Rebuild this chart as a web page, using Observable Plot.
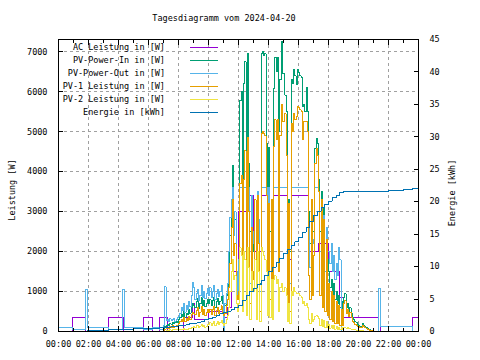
<!DOCTYPE html>
<html><head><meta charset="utf-8">
<script src="https://cdn.jsdelivr.net/npm/d3@7"></script>
<script src="https://cdn.jsdelivr.net/npm/@observablehq/plot@0.6"></script>
<style>html,body{margin:0;background:#fff}svg{display:block}</style>
</head><body><div id="chart"></div>
<script>
// ---------- data ----------
const title = "Tagesdiagramm vom 2024-04-20";
const yLabel = "Leistung [W]";
const y2Label = "Energie [kWh]";
const seriesNames = ["AC Leistung in [W]","PV-Power-In in [W]","PV-Power-Out in [W]","PV-1 Leistung in [W]","PV-2 Leistung in [W]","Energie in [kWh]"];
const seriesColors = ["#9400d3","#009e73","#56b4e9","#e69f00","#f0e442","#0072b2"];
const xMajorTicks = ["00:00","02:00","04:00","06:00","08:00","10:00","12:00","14:00","16:00","18:00","20:00","22:00","24:00"];
const xMinorTicks = ["01:00","03:00","05:00","07:00","09:00","11:00","13:00","15:00","17:00","19:00","21:00","23:00"];
const yTicks = [0,1000,2000,3000,4000,5000,6000,7000];
const y2Ticks = [0,5,10,15,20,25,30,35,40,45];
const yMax = 7310, y2Max = 45;

// day samples every 5 minutes starting 07:00
const dayStart = "07:00", stepMin = 5;
const pvIn = [
 60,120,150,180,140,200,170,230,190,220,250,230,
 300,350,420,380,500,360,450,420,550,460,600,700,
 650,600,750,820,580,700,850,640,780,620,700,800,
 700,800,650,780,850,600,750,820,680,760,880,700,
 600,650,900,1100,1500,2400,3300,4160,2500,2800,1400,1200,
 1500,5780,6020,3500,6210,6750,2900,6960,4200,2500,3400,2200,
 2000,3300,1500,3500,2800,1200,6950,7000,6900,6950,4700,2000,
 4600,2500,3200,1800,6080,6870,6500,6870,5000,6300,7250,6450,
 6450,5920,5500,2800,3300,2000,6300,6200,6550,6400,6180,6550,
 6480,6400,6350,5630,5680,5500,6100,5500,3000,2200,3300,2500,
 2500,4580,4840,4700,3800,2500,3500,2000,3100,1500,2600,1800,
 1500,1100,1300,900,1200,800,1000,700,900,600,750,500,
 850,950,600,700,500,600,450,350,300,250,220,180,
 150,120,130,200,160,120,90,70,50,40,20,10,
 0];
const pv1 = [
 30,60,80,100,80,120,100,140,110,130,160,150,
 200,250,300,260,350,240,320,280,380,300,420,480,
 450,420,520,600,380,480,620,430,550,400,480,560,
 480,560,420,540,620,400,520,600,460,540,640,480,
 400,450,650,800,1100,1700,2600,3300,1900,2200,900,800,
 1000,3700,3900,1200,3800,4530,900,4860,3000,700,2600,1500,
 1300,3300,600,3400,2200,500,4950,5000,4950,4900,3400,900,
 3200,800,3300,600,4630,5300,4800,5300,1500,4900,5680,5250,
 5250,5450,4400,700,3200,500,5200,5000,5450,5300,5380,5630,
 5600,5550,5500,4800,5250,5250,5250,5000,1400,800,3300,900,
 1900,4200,4590,4400,3500,900,3300,600,2800,500,2300,400,
 1200,300,1000,250,900,200,750,200,650,150,550,150,
 700,770,450,550,380,480,350,250,220,180,150,120,
 120,100,110,160,130,100,70,50,40,30,15,5,
 0];
const pv2 = [
 0,10,20,30,20,40,30,50,40,50,60,50,
 40,50,60,50,70,50,60,60,80,70,90,100,
 120,100,140,160,110,130,180,120,150,110,130,170,
 180,220,160,200,260,150,200,240,180,220,280,200,
 150,200,300,400,600,1000,1500,1800,1300,1400,700,500,
 700,2100,1900,500,2000,1800,400,2100,1600,300,1500,1000,
 1000,1800,300,2000,1500,250,2100,2000,1900,1800,1500,400,
 1500,350,1300,300,1300,1400,1200,1300,500,1100,1200,1000,
 1000,1100,900,250,700,200,1000,900,1100,1000,950,950,
 950,900,850,700,750,650,700,600,300,200,450,250,
 300,380,400,380,330,150,300,120,280,100,250,100,
 180,80,160,70,150,60,130,60,110,50,100,40,
 100,90,80,100,80,70,60,50,45,40,35,30,
 25,20,18,15,12,10,8,5,3,2,0,0,
 0];
const pvOutDay = [
 150,1120,280,300,250,320,280,300,330,260,310,350,
 380,450,600,520,700,480,650,560,750,620,900,1230,
 1100,800,950,1050,780,900,1150,850,1000,820,950,1080,
 900,1100,850,1000,1150,800,950,1050,880,1000,1150,900,
 0,700,950,1200,2000,2850,3300,3600,2400,3000,1500,900,
 1800,3600,3600,1800,3600,3600,1500,3600,3600,1200,3400,2500,
 2200,3300,1200,3500,2800,1000,3600,3600,3600,3600,3600,1800,
 3600,1500,3100,1300,3600,3600,3600,3600,2400,3600,3600,3600,
 3600,3600,3600,1500,3000,1200,3600,3600,3600,3600,3600,3600,
 3600,3600,3600,3600,3600,3600,3600,3600,2700,1600,3100,2300,
 2200,3600,3600,3600,3500,2000,3300,1700,2900,1500,2600,2000,
 2000,1700,2200,1500,1900,1300,1700,1400,2100,1800,0,0];
const pvOutAmTimes = ["00:00","00:55","01:48","01:57","03:21","04:15","04:24","05:41","06:15","06:45"];
const pvOutAmValues = [100,40,1040,110,40,1040,90,40,100,40];
const pvOutPmTimes = ["19:00","21:21","21:27","23:37","24:00"];
const pvOutPmValues = [0,1070,125,0,0];
const acTimes = ["00:00","00:55","01:48","03:21","04:21","05:41","06:15","06:45","07:15","08:20","08:57","09:04","10:00","11:04","11:15","11:30","12:00","12:30","13:00","13:30","14:00","14:20","15:15","15:30","16:40","16:52","16:57","17:20","18:00","18:45","19:00","21:21","21:27","23:37","24:00"];
const acValues = [0,350,0,350,0,350,0,350,0,350,700,300,500,350,600,1500,3000,3400,2000,3400,2500,3400,1800,3400,2000,3220,2000,2200,1500,850,350,1070,0,350,350];
const energyTimes = ["00:00","01:57","02:30","03:00","03:21","04:24","05:00","05:41","06:15","06:45","07:00","07:15","07:30","07:45","08:00","08:15","08:30","08:45","09:00","09:15","09:30","09:45","10:00","10:15","10:30","10:45","11:00","11:15","11:30","11:45","12:00","12:15","12:30","12:45","13:00","13:15","13:30","13:45","14:00","14:15","14:30","14:45","15:00","15:15","15:30","15:45","16:00","16:15","16:30","16:45","17:00","17:15","17:30","17:45","18:00","18:15","18:30","18:45","19:00","21:21","22:00","22:30","23:00","23:37","24:00"];
const energyValues = [0,0.12,0.18,0.22,0.25,0.35,0.42,0.48,0.52,0.58,0.62,0.66,0.72,0.8,0.9,1.0,1.1,1.2,1.3,1.45,1.6,1.8,2.0,2.2,2.45,2.7,2.9,3.1,3.4,3.7,4.0,4.8,5.6,6.2,6.7,7.2,7.8,8.6,9.3,9.9,10.6,11.3,12.0,12.7,13.2,13.8,14.5,15.3,16.0,16.9,17.9,18.5,19.1,19.6,20.1,20.6,21.0,21.4,21.5,21.6,21.7,21.8,21.9,22.0,22.0];

// ---------- build ----------
const k = yMax / y2Max;
const toMin = s => { const [h, m] = s.split(":").map(Number); return h * 60 + m; };
const seq = (start, vals) => vals.map((v, i) => ({t: toMin(start) + i * stepMin, v}));
const pairs = (times, vals) => times.map((s, i) => ({t: toMin(s), v: vals[i]}));

const acRows = pairs(acTimes, acValues);
const inRowsAll = [{t: 0, v: 0}, ...seq(dayStart, pvIn), {t: 1440, v: 0}];
const outRows = [...pairs(pvOutAmTimes, pvOutAmValues), ...seq(dayStart, pvOutDay), ...pairs(pvOutPmTimes, pvOutPmValues)];
const pv1Rows = [{t: 0, v: 0}, ...seq(dayStart, pv1), {t: 1440, v: 0}];
const pv2Rows = [{t: 0, v: 0}, ...seq(dayStart, pv2), {t: 1440, v: 0}];
const energyRows = pairs(energyTimes, energyValues).map(d => ({t: d.t, v: d.v * k}));

const fmtX = d => String(Math.floor(d / 60) % 24).padStart(2, "0") + ":00";
const xMaj = xMajorTicks.map(toMin), xMin = xMinorTicks.map(toMin);
const grid = {stroke: "#a0a0a0", strokeOpacity: 1, strokeDasharray: "3,3", strokeWidth: 1};
const ln = (rows, c) => Plot.line(rows, {x: "t", y: "v", stroke: c, strokeWidth: 1, curve: "step-after", shapeRendering: "crispEdges"});

const chart = Plot.plot({
  width: 480, height: 360,
  marginLeft: 58, marginRight: 62, marginTop: 39, marginBottom: 29,
  x: {domain: [0, 1440]},
  y: {domain: [0, yMax]},
  style: {fontFamily: "DejaVu Sans Mono", fontSize: "8.5px", background: "#fff", color: "#000", overflow: "visible", shapeRendering: "crispEdges"},
  marks: [
    Plot.gridX(xMaj.slice(1, -1), grid),
    Plot.gridY(yTicks.slice(1), grid),
    ln(acRows, seriesColors[0]),
    ln(inRowsAll, seriesColors[1]),
    ln(outRows, seriesColors[2]),
    ln(pv1Rows, seriesColors[3]),
    ln(pv2Rows, seriesColors[4]),
    ln(energyRows, seriesColors[5]),
    Plot.frame({stroke: "#000"}),
    Plot.axisX(xMaj, {anchor: "bottom", tickSize: 0, tickPadding: 9, tickFormat: fmtX, label: null}),
    Plot.axisX(xMaj, {anchor: "bottom", tickSize: -5, tickFormat: () => "", label: null}),
    Plot.axisX(xMin, {anchor: "bottom", tickSize: -3, tickFormat: () => "", label: null}),
    Plot.axisX(xMaj, {anchor: "top", tickSize: -5, tickFormat: () => "", label: null}),
    Plot.axisX(xMin, {anchor: "top", tickSize: -3, tickFormat: () => "", label: null}),
    Plot.axisY(yTicks, {anchor: "left", tickSize: 0, tickPadding: 11, tickFormat: d => String(d), label: null}),
    Plot.axisY(yTicks, {anchor: "left", tickSize: -5, tickFormat: () => "", label: null}),
    Plot.axisY(y2Ticks.map(v => v * k), {anchor: "right", tickSize: 0, tickPadding: 11, tickFormat: d => String(Math.round(d / k)), label: null}),
    Plot.axisY(y2Ticks.map(v => v * k), {anchor: "right", tickSize: -5, tickFormat: () => "", label: null})
  ]
});

const svg = d3.select(chart);
const font = "DejaVu Sans Mono";
svg.append("text").attr("x", 224).attr("y", 21).attr("text-anchor", "middle")
  .attr("font-family", font).attr("font-size", 8.5).text(title);
svg.append("text").attr("transform", "translate(15,190) rotate(-90)").attr("text-anchor", "middle")
  .attr("font-family", font).attr("font-size", 8.5).text(yLabel);
svg.append("text").attr("transform", "translate(455,193) rotate(-90)").attr("text-anchor", "middle")
  .attr("font-family", font).attr("font-size", 8.5).text(y2Label);
const leg = svg.append("g");
seriesNames.forEach((name, i) => {
  const y = Math.round(47 + i * 12.95);
  leg.append("text").attr("x", 165).attr("y", y + 0.5).attr("dy", "0.35em").attr("text-anchor", "end")
    .attr("font-family", font).attr("font-size", 8.5).style("fill", "#000").text(name);
  leg.append("rect").attr("x", 190).attr("y", y).attr("width", 28).attr("height", 1)
    .style("fill", seriesColors[i]).style("stroke", "none");
});
document.getElementById("chart").appendChild(chart);
</script></body></html>
